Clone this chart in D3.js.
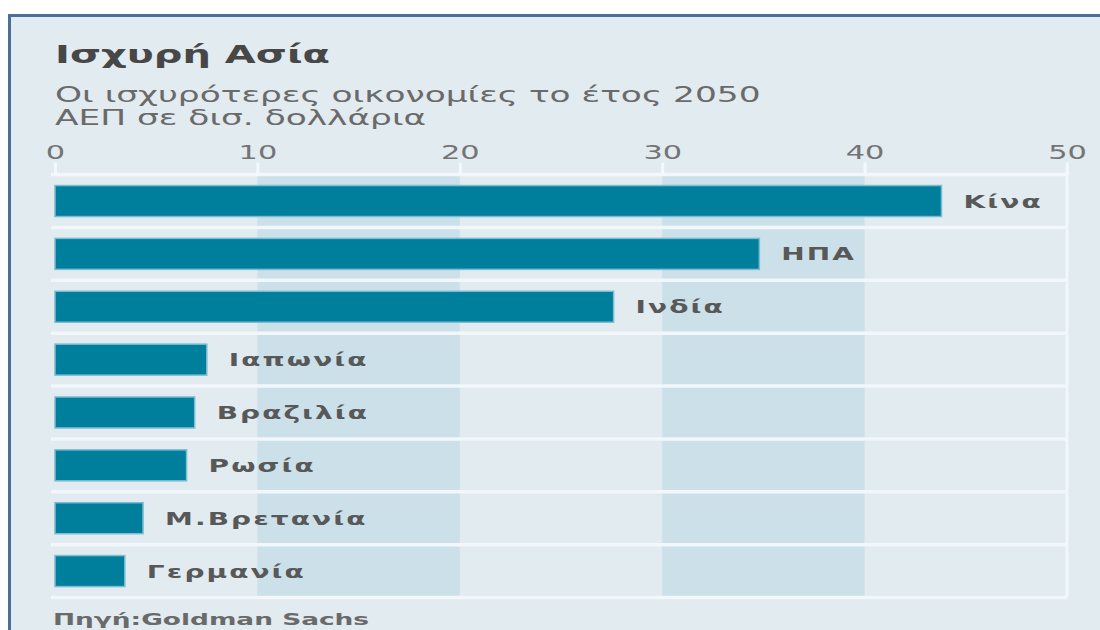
<!DOCTYPE html>
<html>
<head>
<meta charset="utf-8">
<script src="https://cdn.jsdelivr.net/npm/d3@7"></script>
<style>
  html, body { margin: 0; padding: 0; background: #ffffff; }
  svg { display: block; }
  text { font-family: "DejaVu Sans", sans-serif; }
</style>
</head>
<body>
<svg id="chart" width="1100" height="630"></svg>
<script>
// ---- data ----
const categories = ["Κίνα", "ΗΠΑ", "Ινδία", "Ιαπωνία", "Βραζιλία", "Ρωσία", "Μ.Βρετανία", "Γερμανία"];
const gdp2050 = [43.8, 34.8, 27.6, 7.5, 6.9, 6.5, 4.35, 3.45];
const tickValues = [0, 10, 20, 30, 40, 50];
const shadedBands = [[10, 20], [30, 40]];
const titleText = "Ισχυρή Ασία";
const subtitleLines = ["Οι ισχυρότερες οικονομίες το έτος 2050", "ΑΕΠ σε δισ. δολλάρια"];
const sourceText = "Πηγή:Goldman Sachs";

// ---- layout ----
const W = 1100, H = 630;
const SX = 1.6; // horizontal stretch of the original artwork's text
const svg = d3.select("#chart");

// frame
svg.append("rect").attr("x", 9.5).attr("y", 15.5).attr("width", W + 20).attr("height", H + 20)
  .attr("fill", "#e1ebf0").attr("stroke", "#4b6f96").attr("stroke-width", 3);

const x = d3.scaleLinear().domain([0, 50]).range([55, 1067]);
const y = d3.scaleBand().domain(categories).range([174.6, 597.5]).paddingInner(0.414).paddingOuter(0.207);

// shaded columns
svg.append("g").selectAll("rect").data(shadedBands).join("rect")
  .attr("x", d => x(d[0])).attr("width", d => x(d[1]) - x(d[0]))
  .attr("y", y.range()[0]).attr("height", y.range()[1] - y.range()[0])
  .attr("fill", "#cce0ea");

// row separators
const rowEdges = d3.range(categories.length + 1).map(i => y.range()[0] + i * y.step());
svg.append("g").selectAll("line").data(rowEdges).join("line")
  .attr("x1", x(0) - 4).attr("x2", x(50))
  .attr("y1", d => d).attr("y2", d => d)
  .attr("stroke", "#f1f7fa").attr("stroke-width", 3.5);

// axis (top)
const axis = d3.axisTop(x).tickValues(tickValues).tickSize(12).tickPadding(4).tickFormat(d3.format("d"));
const ax = svg.append("g").attr("transform", `translate(0,${y.range()[0]})`).call(axis);
ax.select(".domain").remove();
ax.selectAll(".tick line").attr("stroke", "#f4f9fb").attr("stroke-width", 3);
ax.selectAll(".tick text")
  .attr("fill", "#747474").attr("font-size", 19).attr("y", 0)
  .attr("transform", `translate(0,-16) scale(${SX},1)`);

// right plot edge
svg.append("line").attr("x1", x(50)).attr("x2", x(50))
  .attr("y1", y.range()[0] - 12).attr("y2", y.range()[1])
  .attr("stroke", "#f1f7fa").attr("stroke-width", 3);

// bars
svg.append("g").selectAll("rect").data(categories).join("rect")
  .attr("x", x(0)).attr("y", d => y(d))
  .attr("width", (d, i) => x(gdp2050[i]) - x(0))
  .attr("height", y.bandwidth())
  .attr("fill", "#007f9d").attr("stroke", "#7dbbd0").attr("stroke-width", 1.5);

// bar labels
svg.append("g").selectAll("text").data(categories).join("text")
  .attr("transform", (d, i) => `translate(${x(gdp2050[i]) + 22},${y(d) + y.bandwidth() / 2 + 6.5}) scale(${SX},1)`)
  .attr("font-size", 17.5).attr("font-weight", "bold").attr("letter-spacing", 1.3)
  .attr("fill", "#585858").text(d => d);

// titles
svg.append("text").attr("transform", `translate(55,63) scale(${SX},1)`)
  .attr("font-size", 25).attr("font-weight", "bold").attr("fill", "#474747").text(titleText);
svg.selectAll(".sub").data(subtitleLines).join("text").attr("class", "sub")
  .attr("transform", (d, i) => `translate(55,${102 + i * 23}) scale(${SX},1)`)
  .attr("font-size", 21.5).attr("fill", "#6a6a6a").text(d => d);

// source
svg.append("text").attr("transform", `translate(53,625) scale(${SX},1)`)
  .attr("font-size", 16.5).attr("font-weight", "bold").attr("fill", "#6a6a6a").text(sourceText);
</script>
</body>
</html>
